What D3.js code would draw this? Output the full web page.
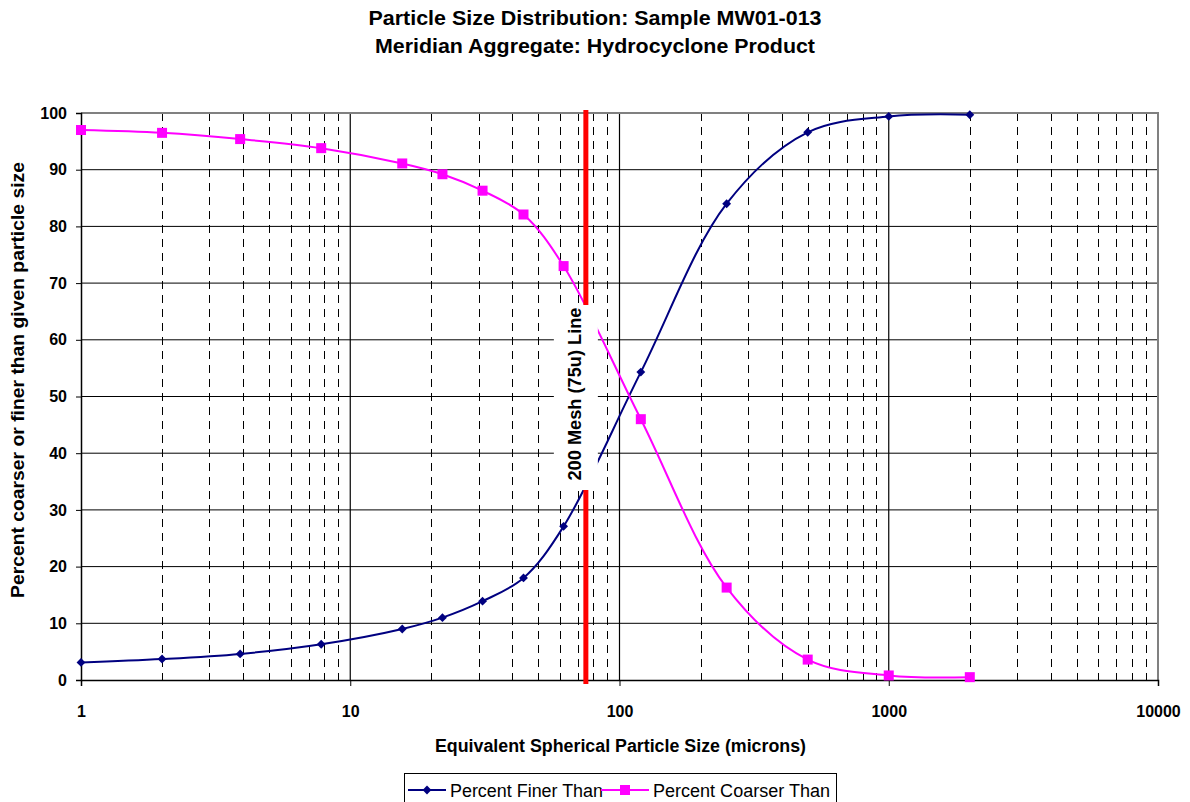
<!DOCTYPE html>
<html><head><meta charset="utf-8">
<script src="https://cdn.jsdelivr.net/npm/d3@7"></script>
<style>body{margin:0;background:#fff;} svg{display:block;font-family:"Liberation Sans",Arial,sans-serif;}</style>
</head><body><svg id="c" width="1190" height="802"></svg>
<script>
const titleLines = ["Particle Size Distribution: Sample MW01-013", "Meridian Aggregate: Hydrocyclone Product"];
const xLabel = "Equivalent Spherical Particle Size (microns)";
const yLabel = "Percent coarser or finer than given particle size";
const sizes = [1, 2, 3.9, 7.8, 15.6, 22, 31, 44, 62, 120, 250, 500, 1000, 2000];
const finer = [3.1, 3.7, 4.6, 6.3, 9.0, 11.0, 13.9, 18.0, 27.1, 54.3, 84.0, 96.6, 99.4, 99.7];
const coarser = [97.0, 96.5, 95.4, 93.8, 91.1, 89.2, 86.3, 82.1, 73.0, 46.0, 16.3, 3.6, 0.8, 0.5];
const seriesNames = ["Percent Finer Than", "Percent Coarser Than"];
const xTicks = [1, 10, 100, 1000, 10000];
const yTicks = [0, 10, 20, 30, 40, 50, 60, 70, 80, 90, 100];
const meshSize = 75;
const meshLabel = "200 Mesh (75u) Line";

const svg = d3.select("#c");
const L = 81, R = 1158, T = 113, B = 680;
const x = d3.scaleLog().domain([1, 10000]).range([L, R]);
const y = d3.scaleLinear().domain([0, 100]).range([B, T]);
const blue = "#000080", mag = "#FF00FF";
const FF = "Liberation Sans, Arial, sans-serif";

// title
const titleLens = [453, 440];
svg.selectAll("text.title").data(titleLines).join("text")
  .attr("x", 595).attr("y", (d, i) => 25 + i * 28)
  .attr("text-anchor", "middle").attr("font-weight", "bold").attr("font-size", 20)
  .attr("textLength", (d, i) => titleLens[i]).attr("lengthAdjust", "spacingAndGlyphs").text(d => d);

const g = svg.append("g");
g.selectAll("line.hg").data(yTicks.filter(d => d > 0 && d < 100)).join("line")
  .attr("x1", L).attr("x2", R).attr("y1", d => y(d)).attr("y2", d => y(d))
  .attr("stroke", "#000").attr("stroke-width", 1);
const minor = [];
[1, 10, 100, 1000].forEach(dec => { for (let k = 2; k <= 9; k++) minor.push(dec * k); });
g.selectAll("line.mg").data(minor).join("line")
  .attr("x1", d => Math.round(x(d)) + 0.5).attr("x2", d => Math.round(x(d)) + 0.5)
  .attr("y1", T).attr("y2", B)
  .attr("stroke", "#000").attr("stroke-width", 1).attr("stroke-dasharray", "8,6");
g.selectAll("line.Mg").data([10, 100, 1000]).join("line")
  .attr("x1", d => x(d)).attr("x2", d => x(d)).attr("y1", T).attr("y2", B)
  .attr("stroke", "#000").attr("stroke-width", 1.2);
g.append("path").attr("d", `M${L},${T}H${R}V${B}`).attr("fill", "none").attr("stroke", "#808080").attr("stroke-width", 2);

// axes
const xAxis = d3.axisBottom(x).tickValues(xTicks).tickFormat(d3.format("d")).tickSize(6).tickPadding(20);
const gx = svg.append("g").attr("transform", `translate(0,${B})`).call(xAxis);
gx.select(".domain").attr("stroke", "#000").attr("stroke-width", 1.5);
gx.selectAll("text").attr("font-size", 16).attr("font-weight", "bold").attr("font-family", FF).attr("fill", "#000");
const yAxis = d3.axisLeft(y).tickValues(yTicks).tickSize(5).tickPadding(9);
const gy = svg.append("g").attr("transform", `translate(${L},0)`).call(yAxis);
gy.select(".domain").attr("stroke", "#000").attr("stroke-width", 1.5);
gy.selectAll("text").attr("font-size", 16).attr("font-weight", "bold").attr("font-family", FF).attr("fill", "#000");

// axis labels
svg.append("text").attr("x", 620.5).attr("y", 752).attr("text-anchor", "middle")
  .attr("font-weight", "bold").attr("font-size", 18)
  .attr("textLength", 371).attr("lengthAdjust", "spacingAndGlyphs").text(xLabel);
svg.append("text").attr("transform", "translate(24,380) rotate(-90)").attr("text-anchor", "middle")
  .attr("font-weight", "bold").attr("font-size", 18)
  .attr("textLength", 436).attr("lengthAdjust", "spacingAndGlyphs").text(yLabel);

// series
const line = d3.line().x(d => x(d[0])).y(d => y(d[1])).curve(d3.curveCatmullRom.alpha(0.5));
const fData = sizes.map((s, i) => [s, finer[i]]);
const cData = sizes.map((s, i) => [s, coarser[i]]);
svg.append("path").attr("d", line(fData)).attr("fill", "none").attr("stroke", blue).attr("stroke-width", 2);
svg.append("path").attr("d", line(cData)).attr("fill", "none").attr("stroke", mag).attr("stroke-width", 2);
svg.selectAll("path.dm").data(fData).join("path")
  .attr("d", d3.symbol(d3.symbolDiamond2, 50)())
  .attr("transform", d => `translate(${x(d[0])},${y(d[1])})`).attr("fill", blue);
svg.selectAll("rect.sq").data(cData).join("rect")
  .attr("x", d => x(d[0]) - 5).attr("y", d => y(d[1]) - 5).attr("width", 10).attr("height", 10).attr("fill", mag);

// 200 mesh line
const mx = x(meshSize);
svg.append("line").attr("x1", mx).attr("x2", mx).attr("y1", T - 3).attr("y2", B + 4)
  .attr("stroke", "#FF0000").attr("stroke-width", 5);
svg.append("rect").attr("x", mx - 32).attr("y", 305).attr("width", 44).attr("height", 185).attr("fill", "#fff");
svg.append("text").attr("transform", `translate(${mx - 5},394) rotate(-90)`)
  .attr("text-anchor", "middle").attr("font-weight", "bold").attr("font-size", 17.5)
  .attr("textLength", 173).attr("lengthAdjust", "spacingAndGlyphs").text(meshLabel);

// legend
const lg = svg.append("g");
lg.append("rect").attr("x", 404.5).attr("y", 773.5).attr("width", 432).attr("height", 40).attr("fill", "#fff").attr("stroke", "#000");
lg.append("line").attr("x1", 408).attr("x2", 446).attr("y1", 790).attr("y2", 790).attr("stroke", blue).attr("stroke-width", 2);
lg.append("path").attr("d", d3.symbol(d3.symbolDiamond2, 50)()).attr("transform", "translate(427,790)").attr("fill", blue);
lg.append("text").attr("x", 450).attr("y", 797).attr("font-size", 18)
  .attr("textLength", 153).attr("lengthAdjust", "spacingAndGlyphs").text(seriesNames[0]);
lg.append("line").attr("x1", 601).attr("x2", 649).attr("y1", 790).attr("y2", 790).attr("stroke", mag).attr("stroke-width", 2);
lg.append("rect").attr("x", 620).attr("y", 785).attr("width", 10).attr("height", 10).attr("fill", mag);
lg.append("text").attr("x", 653).attr("y", 797).attr("font-size", 18)
  .attr("textLength", 177).attr("lengthAdjust", "spacingAndGlyphs").text(seriesNames[1]);
</script></body></html>
